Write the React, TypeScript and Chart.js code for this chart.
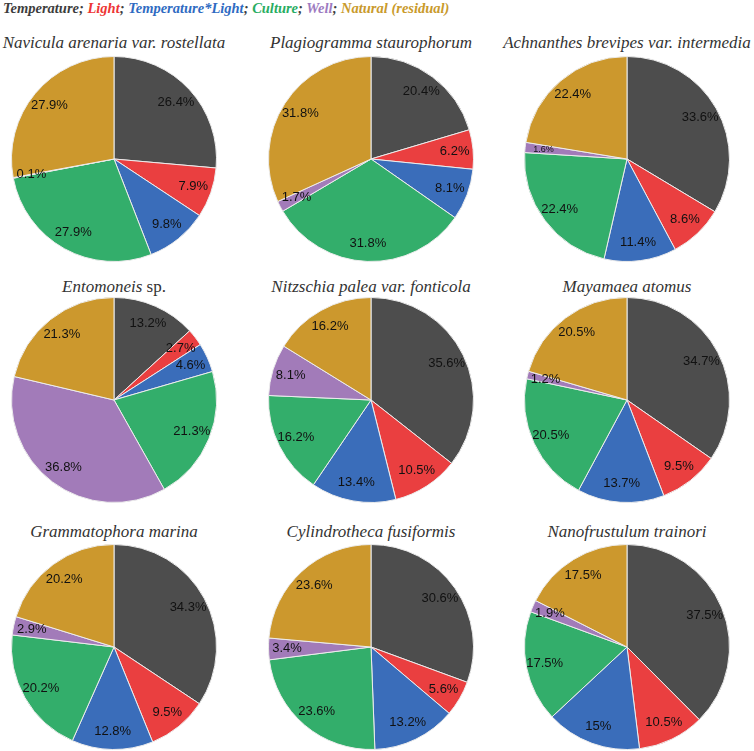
import React, { useEffect, useRef } from "react";
import Chart from "chart.js/auto";

const factors = ["Temperature", "Light", "Temperature*Light", "Culture", "Well", "Natural (residual)"];
const sliceColors = ["#4d4d4d", "#ea3f40", "#3a6dba", "#33ae6b", "#a27bb9", "#cc982d"];
const legendColors = ["#3d3d3d", "#ee3535", "#2f6bc2", "#28ad62", "#9d7bc1", "#c99a2c"];

const navicula = [26.4, 7.9, 9.8, 27.9, 0.1, 27.9];
const plagiogramma = [20.4, 6.2, 8.1, 31.8, 1.7, 31.8];
const achnanthes = [33.6, 8.6, 11.4, 22.4, 1.6, 22.4];
const entomoneis = [13.2, 2.7, 4.6, 21.3, 36.8, 21.3];
const nitzschia = [35.6, 10.5, 13.4, 16.2, 8.1, 16.2];
const mayamaea = [34.7, 9.5, 13.7, 20.5, 1.2, 20.5];
const grammatophora = [34.3, 9.5, 12.8, 20.2, 2.9, 20.2];
const cylindrotheca = [30.6, 5.6, 13.2, 23.6, 3.4, 23.6];
const nanofrustulum = [37.5, 10.5, 15, 17.5, 1.9, 17.5];

const panels: { title: React.ReactNode; values: number[]; small?: number[] }[] = [
  { title: <i>Navicula arenaria var. rostellata</i>, values: navicula },
  { title: <i>Plagiogramma staurophorum</i>, values: plagiogramma },
  { title: <i>Achnanthes brevipes var. intermedia</i>, values: achnanthes, small: [4] },
  { title: <><i>Entomoneis</i> sp.</>, values: entomoneis },
  { title: <i>Nitzschia palea var. fonticola</i>, values: nitzschia },
  { title: <i>Mayamaea atomus</i>, values: mayamaea },
  { title: <i>Grammatophora marina</i>, values: grammatophora },
  { title: <i>Cylindrotheca fusiformis</i>, values: cylindrotheca },
  { title: <i>Nanofrustulum trainori</i>, values: nanofrustulum },
];

const colX = [114, 371, 627];
const rowY = [159, 400, 647];
const titleY = [43, 287, 532];
const PIE = 206;

// draws the percentage inside each slice
const sliceLabels = {
  id: "sliceLabels",
  afterDatasetsDraw(chart: any) {
    const ctx = chart.ctx;
    const meta = chart.getDatasetMeta(0);
    const values = chart.data.datasets[0].data as number[];
    const small: number[] = chart.options.plugins.sliceLabels?.small || [];
    ctx.save();
    ctx.fillStyle = "#111";
    ctx.textAlign = "center";
    ctx.textBaseline = "middle";
    meta.data.forEach((arc: any, i: number) => {
      const { x, y, startAngle, endAngle, outerRadius } = arc.getProps(
        ["x", "y", "startAngle", "endAngle", "outerRadius"],
        true
      );
      const mid = (startAngle + endAngle) / 2;
      const r = outerRadius * 0.82;
      ctx.font = small.includes(i) ? "9px 'Liberation Sans'" : "13px 'Liberation Sans'";
      ctx.fillText(`${values[i]}%`, x + Math.cos(mid) * r, y + Math.sin(mid) * r);
    });
    ctx.restore();
  },
};

function PiePanel({ values, small }: { values: number[]; small?: number[] }) {
  const canvasRef = useRef<HTMLCanvasElement | null>(null);

  useEffect(() => {
    if (!canvasRef.current) return;
    const chart = new Chart(canvasRef.current, {
      type: "pie",
      data: {
        labels: factors,
        datasets: [
          {
            data: values,
            backgroundColor: sliceColors,
            borderColor: "#ececec",
            borderWidth: 1,
          },
        ],
      },
      options: {
        animation: false,
        responsive: false,
        events: [],
        plugins: {
          legend: { display: false },
          tooltip: { enabled: false },
          // @ts-ignore
          sliceLabels: { small: small || [] },
        },
      },
      plugins: [sliceLabels],
    });
    return () => chart.destroy();
  }, [values, small]);

  return <canvas ref={canvasRef} width={PIE} height={PIE} style={{ width: PIE, height: PIE }} />;
}

export default function App() {
  useEffect(() => {
    document.body.style.margin = "0";
  }, []);

  return (
    <div style={{ position: "relative", width: 754, height: 751, background: "#fff", overflow: "hidden" }}>
      <div
        style={{
          position: "absolute",
          left: 3,
          top: 0,
          fontFamily: "'Liberation Serif', serif",
          fontWeight: "bold",
          fontStyle: "italic",
          fontSize: 14.5,
          lineHeight: "17px",
          whiteSpace: "nowrap",
        }}
      >
        {factors.map((f, i) => (
          <span key={f} style={{ color: legendColors[i] }}>
            {f}
            {i < factors.length - 1 ? <span style={{ color: "#3d3d3d" }}>; </span> : null}
          </span>
        ))}
      </div>
      {panels.map((p, idx) => {
        const col = idx % 3;
        const row = Math.floor(idx / 3);
        return (
          <React.Fragment key={idx}>
            <div
              style={{
                position: "absolute",
                left: colX[col] - 125,
                width: 250,
                top: titleY[row] - 11,
                textAlign: "center",
                fontFamily: "'Liberation Serif', serif",
                fontSize: 17,
                lineHeight: "21px",
                color: "#333",
                whiteSpace: "nowrap",
              }}
            >
              {p.title}
            </div>
            <div style={{ position: "absolute", left: colX[col] - PIE / 2, top: rowY[row] - PIE / 2 }}>
              <PiePanel values={p.values} small={p.small} />
            </div>
          </React.Fragment>
        );
      })}
    </div>
  );
}
